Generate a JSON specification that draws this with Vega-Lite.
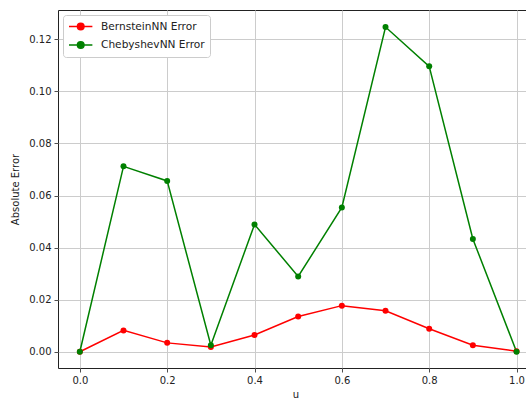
{
  "$schema": "https://vega.github.io/schema/vega-lite/v6.json",
  "width": 475,
  "height": 358,
  "autosize": {"type": "none"},
  "padding": {"left": 58, "top": 10, "right": 0, "bottom": 31},
  "background": "white",
  "config": {
    "font": "DejaVu Sans",
    "view": {"stroke": "#222222", "strokeWidth": 1},
    "axis": {
      "labelFont": "DejaVu Sans",
      "labelFontSize": 10,
      "labelColor": "#222222",
      "titleFont": "DejaVu Sans",
      "titleFontSize": 10,
      "titleFontWeight": "normal",
      "titleColor": "#222222",
      "gridColor": "#cccccc",
      "gridWidth": 1,
      "domain": false,
      "tickColor": "#222222",
      "tickSize": 4,
      "tickWidth": 0.8,
      "labelPadding": 3
    }
  },
  "data": {
    "values": [
      {"u": 0.0, "error": 0.0, "series": "BernsteinNN Error"},
      {"u": 0.1, "error": 0.0082, "series": "BernsteinNN Error"},
      {"u": 0.2, "error": 0.0034, "series": "BernsteinNN Error"},
      {"u": 0.3, "error": 0.0018, "series": "BernsteinNN Error"},
      {"u": 0.4, "error": 0.0064, "series": "BernsteinNN Error"},
      {"u": 0.5, "error": 0.0135, "series": "BernsteinNN Error"},
      {"u": 0.6, "error": 0.0177, "series": "BernsteinNN Error"},
      {"u": 0.7, "error": 0.0157, "series": "BernsteinNN Error"},
      {"u": 0.8, "error": 0.0088, "series": "BernsteinNN Error"},
      {"u": 0.9, "error": 0.0025, "series": "BernsteinNN Error"},
      {"u": 1.0, "error": 0.0002, "series": "BernsteinNN Error"},
      {"u": 0.0, "error": 0.0, "series": "ChebyshevNN Error"},
      {"u": 0.1, "error": 0.0712, "series": "ChebyshevNN Error"},
      {"u": 0.2, "error": 0.0656, "series": "ChebyshevNN Error"},
      {"u": 0.3, "error": 0.0025, "series": "ChebyshevNN Error"},
      {"u": 0.4, "error": 0.0489, "series": "ChebyshevNN Error"},
      {"u": 0.5, "error": 0.0289, "series": "ChebyshevNN Error"},
      {"u": 0.6, "error": 0.0554, "series": "ChebyshevNN Error"},
      {"u": 0.7, "error": 0.1247, "series": "ChebyshevNN Error"},
      {"u": 0.8, "error": 0.1096, "series": "ChebyshevNN Error"},
      {"u": 0.9, "error": 0.0433, "series": "ChebyshevNN Error"},
      {"u": 1.0, "error": 0.0, "series": "ChebyshevNN Error"}
    ]
  },
  "encoding": {
    "x": {
      "field": "u",
      "type": "quantitative",
      "scale": {"domain": [-0.05, 1.0377], "nice": false, "zero": false},
      "axis": {"values": [0, 0.2, 0.4, 0.6, 0.8, 1.0], "format": ".1f", "title": "u", "titlePadding": 4}
    },
    "y": {
      "field": "error",
      "type": "quantitative",
      "scale": {"domain": [-0.00625, 0.13125], "nice": false, "zero": false},
      "axis": {"values": [0, 0.02, 0.04, 0.06, 0.08, 0.1, 0.12], "format": ".2f", "title": "Absolute Error", "titlePadding": 8}
    },
    "color": {
      "field": "series",
      "type": "nominal",
      "scale": {"domain": ["BernsteinNN Error", "ChebyshevNN Error"], "range": ["#ff0000", "#008000"]},
      "legend": {
        "title": null,
        "orient": "none",
        "legendX": 5,
        "legendY": 5,
        "fillColor": "white",
        "strokeColor": "#cccccc",
        "cornerRadius": 3,
        "padding": 5,
        "symbolType": "M-1,0L3.25,0M1.73,0A0.6,0.6,0,1,1,0.53,0A0.6,0.6,0,1,1,1.73,0Z",
        "symbolSize": 121,
        "symbolStrokeWidth": 1.5,
        "labelFont": "DejaVu Sans",
        "labelFontSize": 10.6,
        "labelColor": "#222222",
        "labelOffset": 20,
        "rowPadding": 5.5,
        "encode": {"symbols": {"update": {"fill": {"scale": "color", "field": "value"}, "stroke": {"scale": "color", "field": "value"}}}}
      }
    }
  },
  "layer": [
    {"mark": {"type": "line", "strokeWidth": 1.5}},
    {"mark": {"type": "point", "filled": true, "size": 36, "opacity": 1}}
  ]
}
